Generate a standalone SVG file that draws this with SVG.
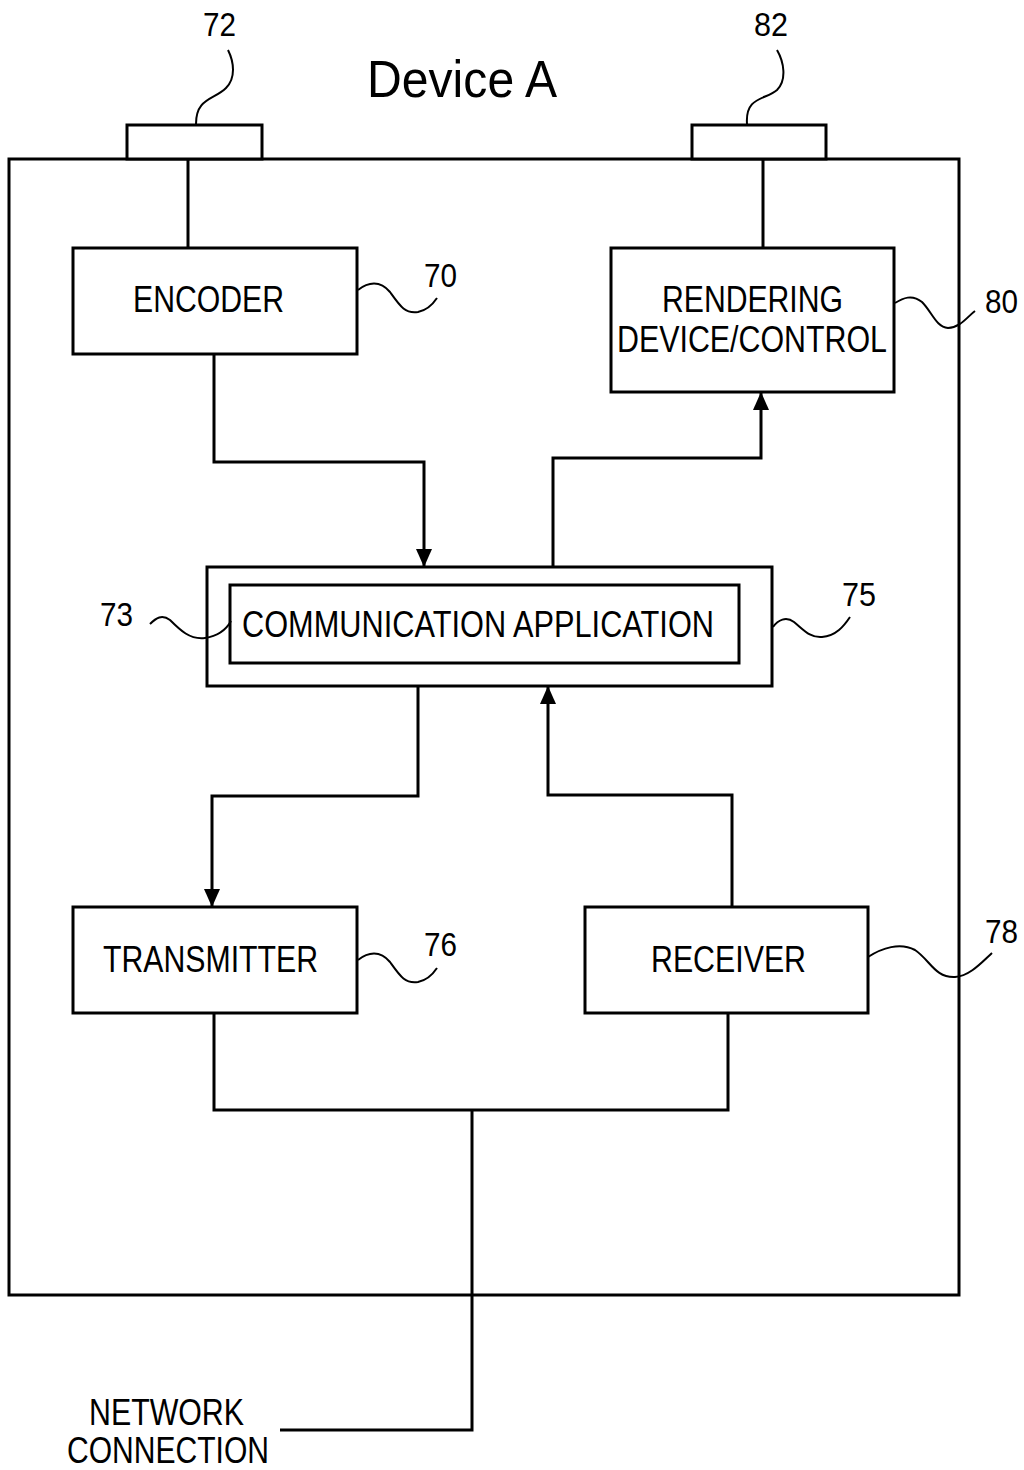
<svg xmlns="http://www.w3.org/2000/svg" width="1024" height="1470" viewBox="0 0 1024 1470">
<style>
.box{fill:#fff;stroke:#000;stroke-width:3}
.ln{fill:none;stroke:#000;stroke-width:3}
.ld{fill:none;stroke:#000;stroke-width:2}
text{font-family:"Liberation Sans",Arial,sans-serif;fill:#000}
.lb{font-size:36px;text-anchor:start}
.num{font-size:34px;text-anchor:start}
</style>
<defs>
<marker id="ah" viewBox="0 0 18 16" refX="17" refY="8" markerWidth="18" markerHeight="16" markerUnits="userSpaceOnUse" orient="auto">
<path d="M0,0 L18,8 L0,16 Z" fill="#000"/>
</marker>
</defs>
<rect width="1024" height="1470" fill="#fff"/>
<g id="deviceA">
<rect class="box" x="9" y="159" width="950" height="1136"/>
<text x="367" y="97" font-size="52" textLength="190" lengthAdjust="spacingAndGlyphs">Device A</text>
</g>
<g id="port72">
<rect class="box" x="127" y="125" width="135" height="34"/>
<text class="num" x="203" y="36" textLength="33" lengthAdjust="spacingAndGlyphs">72</text>
<path class="ld" d="M228,50 C234,62 236,78 226,88 C214,100 196,98 196,124"/>
</g>
<g id="port82">
<rect class="box" x="692" y="125" width="134" height="34"/>
<text class="num" x="754" y="36" textLength="34" lengthAdjust="spacingAndGlyphs">82</text>
<path class="ld" d="M777,50 C784,62 787,80 777,90 C766,100 745,96 747,124"/>
</g>
<g id="encoder">
<rect class="box" x="73" y="248" width="284" height="106"/>
<text class="lb" x="133" y="312" textLength="151" lengthAdjust="spacingAndGlyphs">ENCODER</text>
<text class="num" x="424" y="287" textLength="33" lengthAdjust="spacingAndGlyphs">70</text>
<path class="ld" d="M358,290 C368,282 380,280 390,292 C400,306 405,314 418,312 C428,310 433,304 437,298"/>
</g>
<g id="rendering">
<rect class="box" x="611" y="248" width="283" height="144"/>
<text class="lb" x="662" y="312" textLength="181" lengthAdjust="spacingAndGlyphs">RENDERING</text>
<text class="lb" x="617" y="352" textLength="270" lengthAdjust="spacingAndGlyphs">DEVICE/CONTROL</text>
<text class="num" x="985" y="313" textLength="33" lengthAdjust="spacingAndGlyphs">80</text>
<path class="ld" d="M895,303 C903,298 912,294 922,302 C932,312 936,327 948,328 C960,328 968,316 975,311"/>
</g>
<g id="commApp">
<rect class="box" x="207" y="567" width="565" height="119"/>
<rect class="box" x="230" y="585" width="509" height="78"/>
<text class="lb" x="242" y="637" textLength="472" lengthAdjust="spacingAndGlyphs">COMMUNICATION APPLICATION</text>
<text class="num" x="100" y="626" textLength="33" lengthAdjust="spacingAndGlyphs">73</text>
<path class="ld" d="M150,624 C156,618 162,614 170,620 C180,630 190,640 205,638 C218,636 226,630 231,621"/>
<text class="num" x="842" y="606" textLength="34" lengthAdjust="spacingAndGlyphs">75</text>
<path class="ld" d="M773,627 C778,620 786,616 794,622 C804,630 810,638 822,637 C836,636 844,626 850,617"/>
</g>
<g id="transmitter">
<rect class="box" x="73" y="907" width="284" height="106"/>
<text class="lb" x="103" y="972" textLength="215" lengthAdjust="spacingAndGlyphs">TRANSMITTER</text>
<text class="num" x="424" y="956" textLength="33" lengthAdjust="spacingAndGlyphs">76</text>
<path class="ld" d="M358,960 C368,952 380,950 390,962 C400,976 405,984 418,982 C428,980 433,974 437,968"/>
</g>
<g id="receiver">
<rect class="box" x="585" y="907" width="283" height="106"/>
<text class="lb" x="651" y="972" textLength="155" lengthAdjust="spacingAndGlyphs">RECEIVER</text>
<text class="num" x="985" y="943" textLength="33" lengthAdjust="spacingAndGlyphs">78</text>
<path class="ld" d="M868,957 C882,948 900,942 915,950 C930,960 935,978 955,977 C970,976 982,962 992,953"/>
</g>
<g id="network">
<text class="lb" x="89" y="1425" textLength="155" lengthAdjust="spacingAndGlyphs">NETWORK</text>
<text class="lb" x="67" y="1463" textLength="202" lengthAdjust="spacingAndGlyphs">CONNECTION</text>
</g>
<g id="connectors">
<line class="ln" x1="188" y1="159" x2="188" y2="248"/>
<line class="ln" x1="763" y1="159" x2="763" y2="248"/>
<path class="ln" d="M214,354 V462 H424 V566" marker-end="url(#ah)"/>
<path class="ln" d="M553,567 V458 H761 V393" marker-end="url(#ah)"/>
<path class="ln" d="M418,686 V796 H212 V906" marker-end="url(#ah)"/>
<path class="ln" d="M732,907 V795 H548 V687" marker-end="url(#ah)"/>
<path class="ln" d="M214,1013 V1110 H728 V1013"/>
<path class="ln" d="M472,1110 V1430 H280"/>
</g>
</svg>
